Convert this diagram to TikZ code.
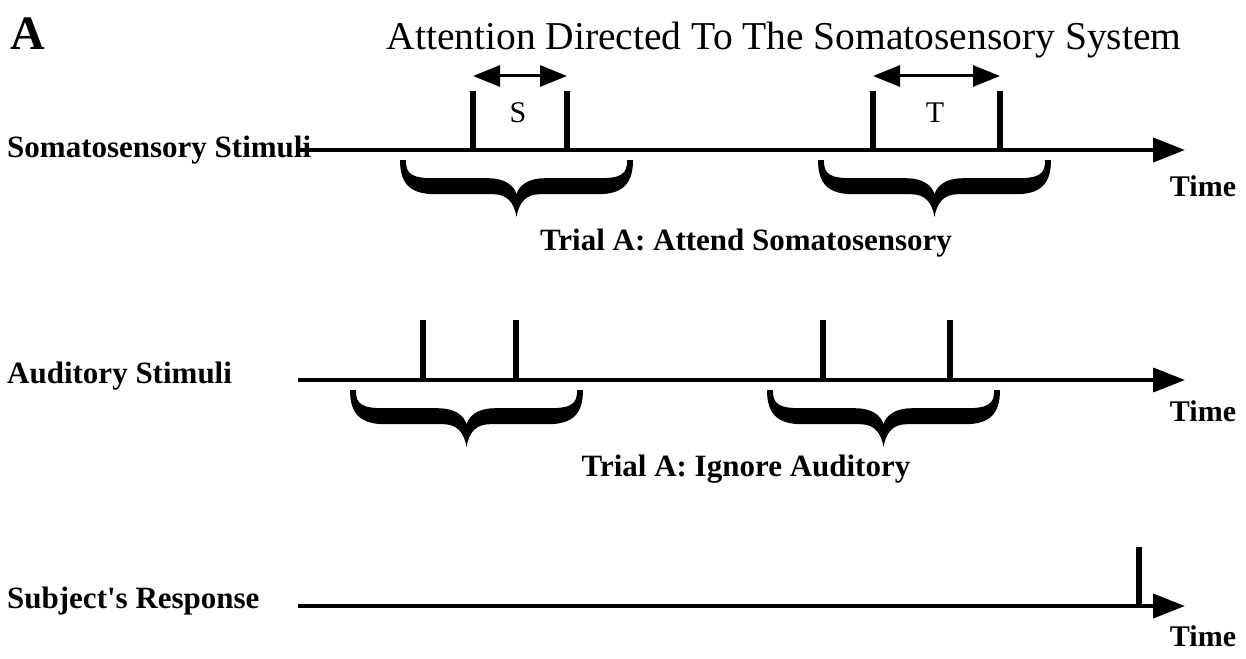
\documentclass[tikz,border=0pt]{standalone}
\usepackage{fontspec}
\setmainfont{Liberation Serif}[Ligatures=TeXOff]
\usetikzlibrary{arrows.meta}

\tikzset{
  timeline/.style={line width=4pt, -{Triangle[length=32pt,width=24pt]}},
  pulse/.style={line width=6pt},
  span/.style={line width=3pt, {Triangle[length=27pt,width=21pt]}-{Triangle[length=27pt,width=21pt]}},
  rowlabel/.style={anchor=base west, inner sep=0pt, font=\fontsize{31}{36}\selectfont\bfseries},
  timelabel/.style={anchor=base, inner sep=0pt, font=\fontsize{30}{36}\selectfont\bfseries},
  triallabel/.style={anchor=base, inner sep=0pt, font=\fontsize{31}{36}\selectfont\bfseries},
  gaplabel/.style={inner sep=0pt, font=\fontsize{30}{36}\selectfont},
  trial brace/.pic={
    \fill (0,0) .. controls (0,0.4) and (0.04,0.6) .. (0.15,0.6)
      -- (0.40,0.6) .. controls (0.46,0.6) and (0.49,0.75) .. (0.5,1)
      .. controls (0.51,0.75) and (0.54,0.6) .. (0.60,0.6)
      -- (0.85,0.6) .. controls (0.96,0.6) and (1,0.4) .. (1,0)
      -- (0.975,0) .. controls (0.975,0.25) and (0.95,0.32) .. (0.85,0.32)
      -- (0.62,0.32) .. controls (0.55,0.32) and (0.51,0.45) .. (0.5,0.6)
      .. controls (0.49,0.45) and (0.45,0.32) .. (0.38,0.32)
      -- (0.15,0.32) .. controls (0.05,0.32) and (0.025,0.25) .. (0.025,0) -- cycle;
  }
}

\begin{document}
\begin{tikzpicture}[x=1pt,y=-1pt]
\useasboundingbox (0,0) rectangle (1246,658);

\node[inner sep=0pt, anchor=base, font=\fontsize{48}{56}\selectfont\bfseries] (panel) at (28,50) {A};
\node[inner sep=0pt, anchor=base, font=\fontsize{39.5}{46}\selectfont] (title) at (784,50) {Attention Directed To The Somatosensory System};

\node[rowlabel] (somalabel) at (7,157) {Somatosensory Stimuli};
\node[rowlabel] (audlabel) at (7,383) {Auditory Stimuli};
\node[rowlabel] (resplabel) at (7,608) {Subject's Response};

\coordinate (soma0) at (300,150);
\coordinate (soma1) at (1185,150);
\coordinate (aud0) at (298,380);
\coordinate (aud1) at (1185,380);
\coordinate (resp0) at (298,606);
\coordinate (resp1) at (1185,606);
\draw[timeline] (soma0) -- (soma1);
\draw[timeline] (aud0) -- (aud1);
\draw[timeline] (resp0) -- (resp1);

\foreach \x/\n in {473/s1,567/s2,873/t1,1000/t2}
  \draw[pulse] (\x,150) coordinate (\n) -- (\x,91) coordinate (\n top);
\foreach \x/\n in {423/a1,516/a2,823/a3,950/a4}
  \draw[pulse] (\x,380) coordinate (\n) -- (\x,320) coordinate (\n top);
\draw[pulse] (1139,606) coordinate (r1) -- (1139,547) coordinate (r1 top);

\coordinate (sl) at (473,76);
\coordinate (sr) at (567,76);
\coordinate (tl) at (873,76);
\coordinate (tr) at (1000,76);
\draw[span] (sl) -- (sr);
\draw[span] (tl) -- (tr);
\node[gaplabel] (gapS) at (518,113) {S};
\node[gaplabel] (gapT) at (935,113) {T};

\pic[xscale=233, yscale=57] at (400,160) {trial brace};
\pic[xscale=233, yscale=57] at (818,160) {trial brace};
\pic[xscale=233, yscale=57] at (350,390) {trial brace};
\pic[xscale=233, yscale=57] at (767,390) {trial brace};

\node[triallabel] (attend) at (746,250) {Trial A: Attend Somatosensory};
\node[triallabel] (ignore) at (746,476) {Trial A: Ignore Auditory};

\node[timelabel] (time1) at (1203,196) {Time};
\node[timelabel] (time2) at (1203,421) {Time};
\node[timelabel] (time3) at (1203,646) {Time};
\end{tikzpicture}
\end{document}
